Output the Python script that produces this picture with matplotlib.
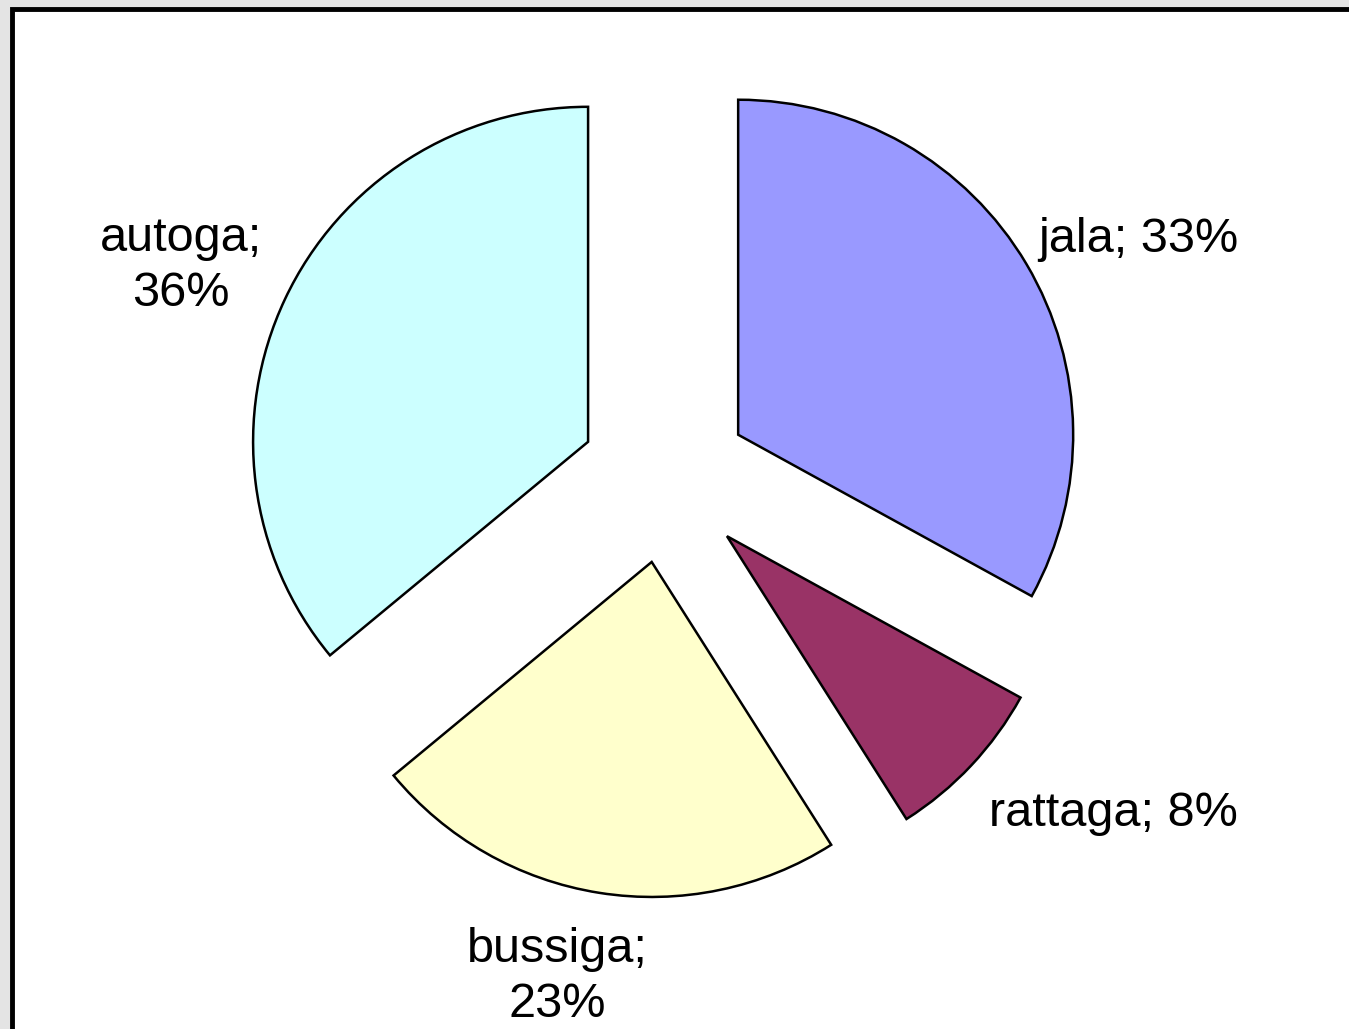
import matplotlib
matplotlib.use("Agg")
import matplotlib.pyplot as plt
from matplotlib.patches import Rectangle

# data
labels = ["jala", "rattaga", "bussiga", "autoga"]
shares = [33, 8, 23, 36]
colors = ["#9999FF", "#993366", "#FFFFCC", "#CCFFFF"]

# label anchor points (pixels, y from bottom)
label_pos = [(1138, 790), (1113, 216), (557, 52), (181, 763)]

W, H = 1349, 1029
fig = plt.figure(figsize=(W / 100, H / 100), dpi=100, facecolor="#e4e4e4")

# chart area frame (cut off at right and bottom like the original)
fig.patches.append(Rectangle((12 / W, -0.05), 1.1, 1.05 - 9 / H,
                             transform=fig.transFigure, facecolor="white",
                             edgecolor="black", linewidth=3.5, zorder=-10))

ax = fig.add_axes([0, 0, 1, 1], zorder=1)
ax.patch.set_alpha(0)

texts = [f"{l};\n{s}%" if l in ("bussiga", "autoga") else f"{l}; {s}%"
         for l, s in zip(labels, shares)]

# explode is in data units (pixels here)
wedges, lbls = ax.pie(shares, labels=texts, colors=colors, startangle=90,
                      counterclock=False, radius=335, center=(665, H - 478),
                      explode=[85] * len(shares),
                      wedgeprops=dict(edgecolor="black", linewidth=1.8),
                      textprops=dict(fontsize=35, family=["Liberation Sans", "DejaVu Sans"]),
                      frame=True)
ax.axis("off")
ax.set_xlim(0, W)
ax.set_ylim(0, H)
ax.set_aspect("equal")

for t, p in zip(lbls, label_pos):
    t.set_position(p)
    t.set_ha("center")
    t.set_va("center")
    t.set_multialignment("center")
    t.set_linespacing(1.3)

fig.savefig("out.png", dpi=100, facecolor=fig.get_facecolor())
